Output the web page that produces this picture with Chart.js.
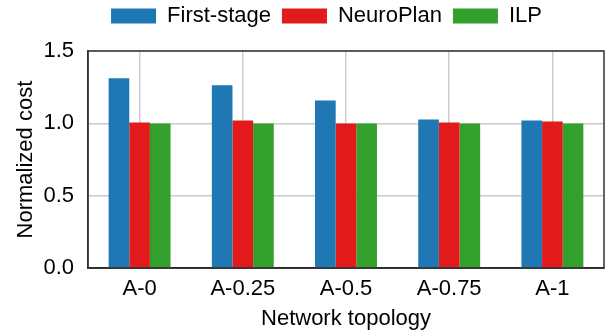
<!DOCTYPE html>
<html>
<head>
<meta charset="utf-8">
<script src="https://cdn.jsdelivr.net/npm/chart.js@4.4.1/dist/chart.umd.min.js"></script>
<style>
html,body{margin:0;padding:0;background:#fff;}
#wrap{width:613px;height:330px;}
</style>
</head>
<body>
<div id="wrap"><canvas id="c" width="613" height="330"></canvas></div>
<script>
const categories = ["A-0", "A-0.25", "A-0.5", "A-0.75", "A-1"];
const firstStage = [1.312, 1.263, 1.159, 1.027, 1.020];
const neuroPlan = [1.006, 1.020, 1.000, 1.006, 1.013];
const ilp = [1.000, 1.000, 1.000, 1.000, 1.000];
const yTicks = [0.0, 0.5, 1.0, 1.5];

const FONT = "'Liberation Sans', Arial, sans-serif";

const framePlugin = {
  id: 'frame',
  afterDatasetsDraw(chart) {
    const a = chart.chartArea, ctx = chart.ctx;
    ctx.save();
    ctx.strokeStyle = '#333';
    ctx.lineWidth = 1.5;
    ctx.strokeRect(a.left, a.top, a.right - a.left, a.bottom - a.top);
    ctx.restore();
  }
};
const legendShift = {
  id: 'legendShift',
  afterLayout(chart) {
    const l = chart.legend;
    l.left += 20; l.right += 20;
    l.top -= 14; l.bottom -= 14;
  }
};

new Chart(document.getElementById('c'), {
  type: 'bar',
  data: {
    labels: categories,
    datasets: [
      {label: 'First-stage', data: firstStage, backgroundColor: '#1f77b4'},
      {label: 'NeuroPlan', data: neuroPlan, backgroundColor: '#e31a1c'},
      {label: 'ILP', data: ilp, backgroundColor: '#33a02c'}
    ]
  },
  options: {
    responsive: false,
    animation: false,
    devicePixelRatio: 1,
    layout: {padding: {left: 9, right: 9, top: 8, bottom: 0}},
    datasets: {bar: {categoryPercentage: 0.6, barPercentage: 1.0}},
    plugins: {
      legend: {
        position: 'top',
        labels: {
          boxWidth: 45, boxHeight: 15, padding: 11, color: '#000',
          font: {family: FONT, size: 22}
        }
      },
      tooltip: {enabled: false}
    },
    scales: {
      x: {
        grid: {offset: false, drawTicks: false, color: '#cccccc', lineWidth: 1.5},
        border: {display: true, color: '#222', width: 1.5},
        ticks: {padding: 8, color: '#000', font: {family: FONT, size: 22}},
        title: {display: true, text: 'Network topology', color: '#000', padding: {top: -5, bottom: -2}, font: {family: FONT, size: 22}}
      },
      y: {
        min: 0, max: 1.5,
        afterFit(scale) { scale.width = 79; },
        afterBuildTicks(scale) { scale.ticks = yTicks.map(v => ({value: v})); },
        grid: {drawTicks: false, color: '#cccccc', lineWidth: 1.5},
        border: {display: true, color: '#333', width: 1.5},
        ticks: {padding: 14, color: '#000', font: {family: FONT, size: 22}, callback: v => Number(v).toFixed(1)},
        title: {display: true, text: 'Normalized cost', color: '#000', font: {family: FONT, size: 22}}
      }
    }
  },
  plugins: [framePlugin, legendShift]
});
</script>
</body>
</html>
